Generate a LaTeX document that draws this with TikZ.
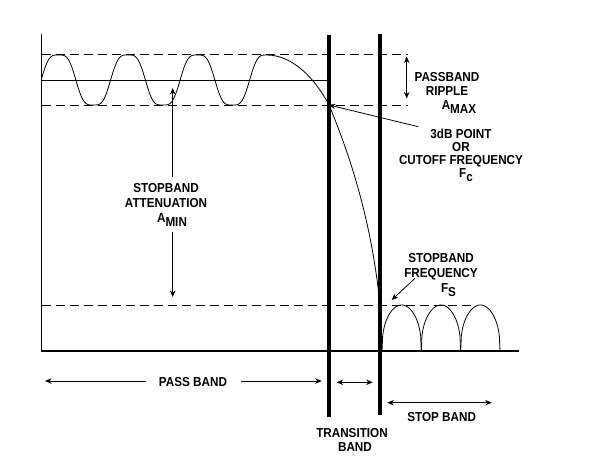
\documentclass[tikz,border=0pt]{standalone}
\usepackage{fontspec}
\setmainfont{Liberation Sans}
\newfontfamily\lblfont[FakeStretch=0.9]{Liberation Sans}
\usetikzlibrary{arrows.meta}
\begin{document}
\begin{tikzpicture}[x=1pt,y=-1pt,
  axisline/.style={line width=1.1pt},
  bandline/.style={line width=4pt},
  limitline/.style={line width=0.9pt, dash pattern=on 9pt off 5pt},
  curveline/.style={line width=0.8pt},
  arr/.style={line width=0.8pt, -{Stealth[length=6.5pt,width=5.5pt]}},
  darr/.style={line width=0.8pt, {Stealth[length=6.5pt,width=5.5pt]}-{Stealth[length=6.5pt,width=5.5pt]}},
  lbl/.style={font=\lblfont\fontsize{13}{14}\selectfont\bfseries, align=center, inner sep=0pt}
]
\useasboundingbox (0,0) rectangle (595,471);
% axes
\coordinate (axTop) at (41.7,34);
\coordinate (O) at (41.7,351);
\coordinate (axEnd) at (519,351);
\draw[axisline] (axTop) -- (O) -- (axEnd);
% limit lines
\coordinate (dTopL) at (41.7,54.5);  \coordinate (dTopR) at (408,54.5);
\coordinate (dLowL) at (41.7,105);   \coordinate (dLowR) at (408,105);
\coordinate (midL) at (41.7,80);     \coordinate (midR) at (329,80);
\coordinate (dStL) at (41.7,305);    \coordinate (dStR) at (473,305);
\draw[limitline] (dTopL) -- (dTopR);
\draw[limitline] (dLowL) -- (dLowR);
\draw[limitline] (dStL) -- (dStR);
\draw[curveline] (midL) -- (midR);
% response curve
\coordinate (p3db) at (329,105);
\coordinate (rollEnd) at (380,305);
\draw[curveline] plot[domain=-86.5:1080,samples=200]
  ({58.5+\x/360*69.5},{80-28.125*(cos(\x)-cos(3*\x)/9)})
  .. controls (292,55) and (315,78) .. (p3db)
  .. controls (352,160) and (372,225) .. (rollEnd);
% stopband bumps
\foreach \a in {382,421.3,460.7}{
  \draw[curveline] plot[domain=0:180,samples=60]
    ({\a+\x/180*39.3},{351-46*sqrt(sqrt(abs(sin(\x))))*sqrt(sqrt(sqrt(abs(sin(\x)))))});
}
% band edges
\coordinate (b1Top) at (329.3,35);  \coordinate (b1Bot) at (329.3,417);
\coordinate (b2Top) at (380,34);    \coordinate (b2Bot) at (380,415);
\draw[bandline] (b1Top) -- (b1Bot);
\draw[bandline] (b2Top) -- (b2Bot);
% passband ripple
\coordinate (ripT) at (406.7,56.5);
\coordinate (ripB) at (406.7,98.5);
\draw[darr] (ripT) -- (ripB);
\node[lbl, anchor=north] (ripple) at (447,72.5) {PASSBAND\\RIPPLE\\\hspace*{24pt}A\raisebox{-4pt}{MAX}};
% 3dB point
\node[lbl, anchor=north, font=\lblfont\fontsize{13}{12.8}\selectfont\bfseries] (cut) at (461,129) {3dB POINT\\OR\\CUTOFF FREQUENCY\\\hspace*{10pt}F\raisebox{-4pt}{c}};
\coordinate (cutTail) at (418.3,126.7);
\draw[arr] (cutTail) -- (p3db);
% stopband attenuation
\node[lbl, anchor=north, outer sep=6pt, font=\lblfont\fontsize{13}{15}\selectfont\bfseries] (att) at (166,177) {STOPBAND\\ATTENUATION\\\hspace*{12pt}A\raisebox{-4pt}{MIN}};
\coordinate (attTop) at (172.7,88);
\coordinate (attBot) at (172.7,297);
\draw[arr] (att.north -| attTop) -- (attTop);
\draw[arr] (att.south -| attBot) -- (attBot);
% stopband frequency
\node[lbl, anchor=north, font=\lblfont\fontsize{13}{15}\selectfont\bfseries] (fs) at (441,253.5) {STOPBAND\\FREQUENCY\\\hspace*{15pt}F\raisebox{-4pt}{S}};
\coordinate (fsTail) at (415,278.3);
\coordinate (fsTip) at (391.7,300);
\draw[arr] (fsTail) -- (fsTip);
% pass band
\node[lbl] (pb) at (193,382) {PASS BAND};
\coordinate (pbL) at (45,381);
\coordinate (pbR) at (321.7,381);
\draw[arr] (pb.west |- pbL) ++(-13,0) coordinate (pbLt) -- (pbL);
\draw[arr] (pb.east |- pbR) ++(14,0) coordinate (pbRt) -- (pbR);
% transition band
\coordinate (trL) at (336.7,382.3);
\coordinate (trR) at (372.7,382.3);
\draw[darr] (trL) -- (trR);
\node[lbl, anchor=north] (tr) at (352,428) {TRANSITION\\\hspace*{6pt}BAND};
% stop band
\coordinate (sbL) at (387.3,402.7);
\coordinate (sbR) at (491.7,402.7);
\draw[darr] (sbL) -- (sbR);
\node[lbl] (sb) at (441.7,417) {STOP BAND};
\end{tikzpicture}
\end{document}
